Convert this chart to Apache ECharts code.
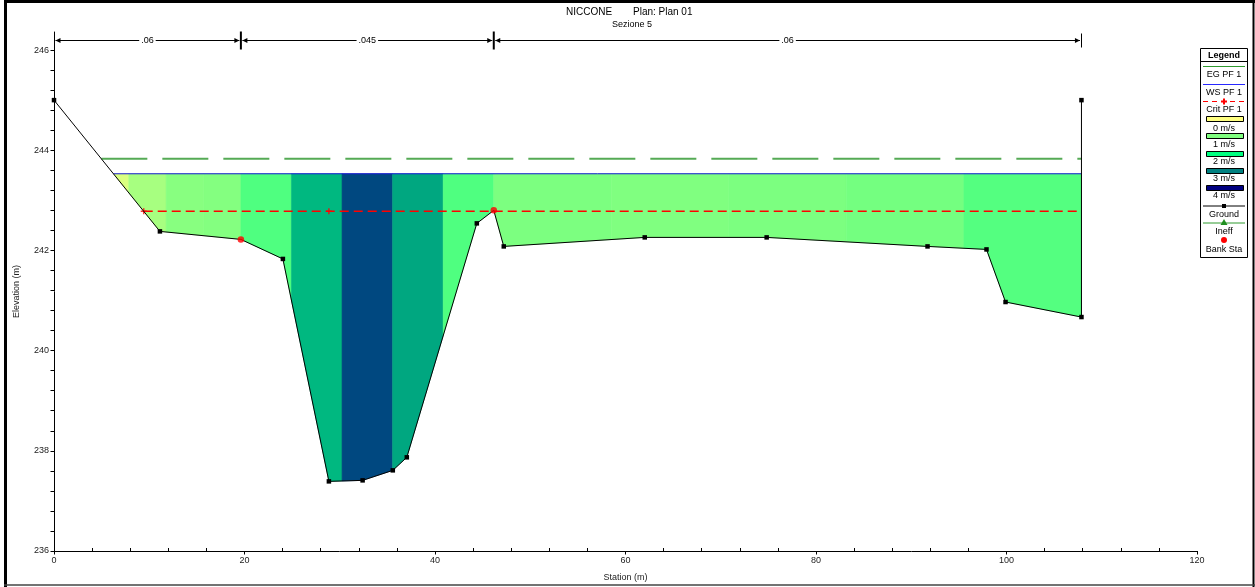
<!DOCTYPE html>
<html><head><meta charset="utf-8">
<script src="https://cdn.jsdelivr.net/npm/echarts@6/dist/echarts.min.js"></script>
<style>html,body{margin:0;padding:0;background:#fff}#c{width:1255px;height:587px}</style>
</head><body><div id="c"></div>
<script>
// ---------------- DATA ----------------
const groundStation = [0, 11.12, 19.62, 24.03, 28.86, 32.40, 35.57, 37.04, 44.39, 46.17, 47.22, 62.02, 74.82, 91.71, 97.90, 99.90, 107.87, 107.87];
const groundElev    = [245.0, 242.38, 242.22, 241.83, 237.39, 237.41, 237.61, 237.87, 242.54, 242.80, 242.08, 242.26, 242.26, 242.08, 242.02, 240.97, 240.67, 245.0];
const bankStations  = [19.62, 46.17];
const bankElev      = [242.22, 242.80];
const wsLine   = [[6.24, 243.53], [107.87, 243.53]];
const egLine   = [[4.97, 243.83], [107.87, 243.83]];
const critLine = [[9.42, 242.78], [107.87, 242.78]];
const critMarks = [[9.42, 242.78], [28.86, 242.78]];
const sliceEdges = [0, 3.92, 7.85, 11.77, 15.70, 19.62, 24.93, 30.24, 35.55, 40.86, 46.17, 58.51, 70.85, 83.19, 95.53, 107.87];
const sliceVelocity = [0, 0.29, 0.69, 0.94, 0.97, 1.38, 2.56, 3.44, 2.69, 1.38, 1.03, 1.00, 1.03, 1.09, 1.34];
const roughEdges = [0, 19.62, 46.17, 107.87];
const roughLabels = ['.06', '.045', '.06'];
const xTickLabels = [0, 20, 40, 60, 80, 100, 120];
const yTickLabels = [236, 238, 240, 242, 244, 246];
const legendVelLabels = ['0 m/s', '1 m/s', '2 m/s', '3 m/s', '4 m/s'];
const legendVelValues = [0, 1, 2, 3, 4];

// ---------------- STYLE ----------------
const FONT = 'Liberation Sans, Arial, sans-serif';
const velStops = [[0,[255,255,128]],[1,[128,255,128]],[2,[0,255,128]],[3,[0,128,128]],[4,[0,0,128]]];
function velColor(v){
  for (let k=0;k<velStops.length-1;k++){
    const [a,ca]=velStops[k],[b,cb]=velStops[k+1];
    if (v<=b || k===velStops.length-2){
      const t=Math.max(0,Math.min(1,(v-a)/(b-a)));
      const c=ca.map((x,i)=>Math.round(x+(cb[i]-x)*t));
      return 'rgb('+c.join(',')+')';
    }
  }
}
const Y_MIN = 236, Y_MAX = 246.36;
const WS = wsLine[0][1];

function groundAt(x){
  for (let k=0;k<groundStation.length-1;k++){
    const x0=groundStation[k],x1=groundStation[k+1];
    if (x1>x0 && x>=x0 && x<=x1) return groundElev[k]+(groundElev[k+1]-groundElev[k])*(x-x0)/(x1-x0);
  }
  return null;
}
function slicePoly(xa,xb){
  const xs=[xa,xb];
  for (let k=0;k<groundStation.length;k++){ const g=groundStation[k]; if (g>xa && g<xb) xs.push(g); }
  for (let k=0;k<groundStation.length-1;k++){
    const x0=groundStation[k],x1=groundStation[k+1],y0=groundElev[k],y1=groundElev[k+1];
    if (x1>x0 && (y0-WS)*(y1-WS)<0){ const xc=x0+(WS-y0)*(x1-x0)/(y1-y0); if (xc>xa && xc<xb) xs.push(xc); }
  }
  xs.sort((a,b)=>a-b);
  const wet=xs.map(x=>[x,groundAt(x)]).filter(p=>p[1]<=WS+1e-9);
  if (wet.length<2 || wet.every(p=>p[1]>=WS-1e-9)) return null;
  const l=wet[0][0], r=wet[wet.length-1][0];
  return [[l,WS],[r,WS]].concat(wet.slice().reverse());
}
const yTicks=[]; for (let i=0;i<=25;i++) yTicks.push(+(236+i*0.4).toFixed(1));

const chart = echarts.init(document.getElementById('c'), null, {renderer:'canvas'});

const sliceData = sliceVelocity.map((v,i)=>[sliceEdges[i], sliceEdges[i+1], WS, v]);
const roughData = roughLabels.map((l,i)=>[roughEdges[i], roughEdges[i+1], Y_MAX, i]);

const groundData = groundStation.map((x,i)=>{
  const isBank = bankStations.some((b,j)=>b===x && bankElev[j]===groundElev[i]);
  return isBank ? {value:[x,groundElev[i]], symbol:'none'} : {value:[x,groundElev[i]]};
});

// legend graphics
const LCX = 1224;
const lg = [];
lg.push({type:'rect', shape:{x:1200.5,y:48.5,width:47,height:209}, style:{fill:'#fff',stroke:'#000',lineWidth:1}, z:10});
lg.push({type:'text', x:LCX, y:55.5, style:{text:'Legend', font:'bold 9px '+FONT, fill:'#000', align:'center', verticalAlign:'middle'}, z:11});
lg.push({type:'line', shape:{x1:1200.5,y1:61.5,x2:1247.5,y2:61.5}, style:{stroke:'#000',lineWidth:1}, z:11});
function ltext(t,y){ lg.push({type:'text', x:LCX, y:y, style:{text:t, font:'9px '+FONT, fill:'#000', align:'center', verticalAlign:'middle'}, z:11}); }
function lline(y,color,dash){ const st={stroke:color,lineWidth:1}; if (dash) st.lineDash=dash; lg.push({type:'line', shape:{x1:1203,y1:y,x2:1245,y2:y}, style:st, z:11}); }
lline(66.5,'#2e9a2e'); ltext('EG PF 1',75);
lline(84.5,'#2828ff'); ltext('WS PF 1',93);
lline(101.5,'#ff0000',[5,4]);
lg.push({type:'polygon', shape:{points:[[1223,98.5],[1225,98.5],[1225,100.5],[1227,100.5],[1227,102.5],[1225,102.5],[1225,104.5],[1223,104.5],[1223,102.5],[1221,102.5],[1221,100.5],[1223,100.5]]}, style:{fill:'#ff0000'}, z:12});
ltext('Crit PF 1',110);
const rectTops=[116.5,133.5,151.5,168.5,185.5], vtY=[128.5,145,162,179,196];
legendVelValues.forEach((v,i)=>{
  lg.push({type:'rect', shape:{x:1206.5,y:rectTops[i],width:37,height:5}, style:{fill:velColor(v),stroke:'#000',lineWidth:1}, z:11});
  ltext(legendVelLabels[i], vtY[i]);
});
lline(206,'#000'); lg.push({type:'rect', shape:{x:1222,y:204,width:4,height:4}, style:{fill:'#000'}, z:12}); ltext('Ground',214.5);
lline(223,'#2e9a2e'); lg.push({type:'polygon', shape:{points:[[1224,219],[1227.5,225],[1220.5,225]]}, style:{fill:'#1f8f1f'}, z:12}); ltext('Ineff',232);
lg.push({type:'circle', shape:{cx:1224,cy:240,r:3}, style:{fill:'#ff0000'}, z:12}); ltext('Bank Sta',249.5);

// title + frame
const graphics = [
  {type:'line', shape:{x1:5.5,y1:0,x2:5.5,y2:587}, style:{stroke:'#000',lineWidth:3}, z:20},
  {type:'line', shape:{x1:4,y1:1.5,x2:1255,y2:1.5}, style:{stroke:'#000',lineWidth:3}, z:20},
  {type:'line', shape:{x1:1253.5,y1:0,x2:1253.5,y2:587}, style:{stroke:'#000',lineWidth:2}, z:20},
  {type:'line', shape:{x1:4,y1:585,x2:1255,y2:585}, style:{stroke:'#444',lineWidth:1.5}, z:20},
  {type:'text', x:566, y:12.5, style:{text:'NICCONE', font:'10px '+FONT, fill:'#000', verticalAlign:'middle'}},
  {type:'text', x:633, y:12.5, style:{text:'Plan: Plan 01', font:'10px '+FONT, fill:'#000', verticalAlign:'middle'}},
  {type:'text', x:632, y:25, style:{text:'Sezione 5', font:'9px '+FONT, fill:'#000', align:'center', verticalAlign:'middle'}}
].concat(lg);

const option = {
  animation:false,
  backgroundColor:'#fff',
  grid:{left:54, right:58, top:32, bottom:34, containLabel:false},
  xAxis:{type:'value', min:0, max:120, interval:20,
    axisLine:{show:true,onZero:false,lineStyle:{color:'#000',width:1}},
    axisTick:{show:true,length:3.5,lineStyle:{color:'#000'}},
    minorTick:{show:true,splitNumber:5,length:-3,lineStyle:{color:'#000'}},
    axisLabel:{fontSize:9,color:'#222',margin:5,fontFamily:FONT,customValues:xTickLabels},
    splitLine:{show:false},
    name:'Station (m)', nameLocation:'middle', nameGap:22, nameTextStyle:{fontSize:9,color:'#222',fontFamily:FONT}},
  yAxis:{type:'value', min:Y_MIN, max:Y_MAX,
    axisLine:{show:true,onZero:false,lineStyle:{color:'#000',width:1}},
    axisTick:{show:true,length:3.5,customValues:yTicks,lineStyle:{color:'#000'}},
    axisLabel:{fontSize:9,color:'#222',margin:5,fontFamily:FONT,customValues:yTickLabels},
    splitLine:{show:false},
    name:'Elevation (m)', nameLocation:'middle', nameGap:33, nameRotate:90, nameTextStyle:{fontSize:9,color:'#222',fontFamily:FONT}},
  graphic: graphics,
  series:[
    {type:'custom', name:'water', z:1, data:sliceData, encode:{x:[0,1],y:2}, clip:false,
      renderItem:(params,api)=>{
        const d=sliceData[params.dataIndex];
        const poly=slicePoly(d[0],d[1]);
        if (!poly) return {type:'group', children:[]};
        const pts=poly.map(p=>api.coord(p));
        const col=velColor(d[3]);
        return {type:'polygon', shape:{points:pts}, style:{fill:col,stroke:col,lineWidth:0.6}};
      }},
    {type:'line', name:'EG PF 1', z:3, data:egLine, symbol:'none', lineStyle:{color:'#55aa55',width:1.8,type:[46,15]}},
    {type:'line', name:'WS PF 1', z:3, data:wsLine, symbol:'none', lineStyle:{color:'#1a1ad8',width:1}},
    {type:'line', name:'Crit PF 1', z:3, data:critLine, symbol:'none', lineStyle:{color:'#ff0000',width:1.5,type:[9,5]}},
    {type:'scatter', name:'crit marks', z:4, data:critMarks, symbol:'path://M3,0h2v3h3v2h-3v3h-2v-3h-3v-2h3z', symbolSize:6, itemStyle:{color:'#ff0000'}},
    {type:'line', name:'Ground', z:5, data:groundData, symbol:'rect', symbolSize:4.5, showAllSymbol:true,
      itemStyle:{color:'#000'}, lineStyle:{color:'#000',width:1}},
    {type:'scatter', name:'Bank Sta', z:6, data:bankStations.map((x,i)=>[x,bankElev[i]]), symbol:'circle', symbolSize:6.5, itemStyle:{color:'#ff0000'}},
    {type:'custom', name:'roughness', z:7, data:roughData, encode:{x:[0,1],y:2}, clip:false,
      renderItem:(params,api)=>{
        const d=roughData[params.dataIndex];
        const i=params.dataIndex, n=roughData.length;
        const p0=api.coord([d[0],d[2]]), p1=api.coord([d[1],d[2]]);
        const y=Math.round(p0[1]+8)+0.5;
        const xa=p0[0]+1.5, xb=p1[0]-1.5;
        const ch=[
          {type:'line', shape:{x1:xa,y1:y,x2:xb,y2:y}, style:{stroke:'#000',lineWidth:1}},
          {type:'polygon', shape:{points:[[xa,y],[xa+5,y-2.5],[xa+5,y+2.5]]}, style:{fill:'#000'}},
          {type:'polygon', shape:{points:[[xb,y],[xb-5,y-2.5],[xb-5,y+2.5]]}, style:{fill:'#000'}},
          {type:'text', x:(p0[0]+p1[0])/2, y:y, style:{text:roughLabels[i], font:'9px '+FONT, fill:'#000', align:'center', verticalAlign:'middle', backgroundColor:'#fff', padding:[0,2]}}
        ];
        if (i<n-1) ch.push({type:'line', shape:{x1:p1[0],y1:y-9,x2:p1[0],y2:y+9}, style:{stroke:'#000',lineWidth:2}});
        else ch.push({type:'line', shape:{x1:Math.round(p1[0])+0.5,y1:y-7,x2:Math.round(p1[0])+0.5,y2:y+7}, style:{stroke:'#000',lineWidth:1}});
        return {type:'group', children:ch};
      }}
  ]
};
chart.setOption(option);
</script>
</body></html>
